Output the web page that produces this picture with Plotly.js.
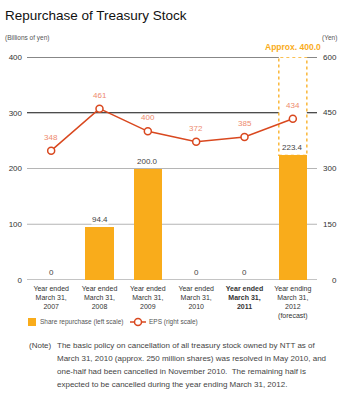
<!DOCTYPE html>
<html>
<head>
<meta charset="utf-8">
<script src="https://cdn.plot.ly/plotly-3.0.1.min.js"></script>
<style>html,body{margin:0;padding:0;background:#fff;}#chart{width:353px;height:400px;}</style>
</head>
<body>
<div id="chart"></div>
<script>
const categories = [
  "Year ended<br>March 31,<br>2007",
  "Year ended<br>March 31,<br>2008",
  "Year ended<br>March 31,<br>2009",
  "Year ended<br>March 31,<br>2010",
  "<b>Year ended<br>March 31,<br>2011</b>",
  "Year ending<br>March 31,<br>2012<br>(forecast)"
];
const repurchase = [0, 94.4, 200.0, 0, 0, 223.4];
const repurchaseLabels = ["0", "94.4", "200.0", "0", "0", "223.4"];
const eps = [348, 461, 400, 372, 385, 434];
const forecastTotal = 400.0;
const forecastIndex = 5;
const leftTicks = [0, 100, 200, 300, 400];
const rightTicks = [0, 150, 300, 450, 600];
const legendLabels = ["Share repurchase (left scale)", "EPS (right scale)"];
const noteLines = [
  "The basic policy on cancellation of all treasury stock owned by NTT as of",
  "March 31, 2010 (approx. 250 million shares) was resolved in May 2010, and",
  "one-half had been cancelled in November 2010.  The remaining half is",
  "expected to be cancelled during the year ending March 31, 2012."
];

const ORANGE = "#F9AC1B";
const RED = "#D9481F";
const SALMON = "#EE8A6E";
const FONT = "Liberation Sans, Arial, sans-serif";
const idx = categories.map((_, i) => i);
const BW = 0.58;

const W = 353, H = 400, L = 27, R = 36, T = 57, B = 120;
const plotW = W - L - R, plotH = H - T - B;
const px = x => (x - L) / plotW;          // pixel -> paper x
const py = y => 1 - (y - T) / plotH;      // pixel -> paper y

const traces = [
  {
    type: "bar", x: idx, y: repurchase, width: BW,
    marker: {color: ORANGE}, name: legendLabels[0],
    hoverinfo: "skip", yaxis: "y"
  },
  {
    type: "scatter", mode: "lines+markers", x: idx, y: eps, yaxis: "y2",
    line: {color: RED, width: 1.5},
    marker: {symbol: "circle", size: 7, color: "#fff", line: {color: RED, width: 1.5}},
    name: legendLabels[1], hoverinfo: "skip"
  }
];

const gridColors = {0: "#8a8a8a", 100: "#b5b5b5", 200: "#b5b5b5", 300: "#111", 400: "#111"};
const shapes = leftTicks.map(v => ({
  type: "line", xref: "paper", yref: "y", x0: 0, x1: 1, y0: v, y1: v,
  line: {color: gridColors[v], width: 1.2}, layer: "below"
}));
shapes.push({
  type: "rect", xref: "x", yref: "y",
  x0: forecastIndex - BW / 2, x1: forecastIndex + BW / 2,
  y0: repurchase[forecastIndex], y1: forecastTotal,
  fillcolor: "#fff", line: {color: ORANGE, width: 1.3, dash: "dot"}, layer: "below"
});
// manual legend
shapes.push({
  type: "rect", xref: "paper", yref: "paper", x0: px(28), x1: px(36), y0: py(326), y1: py(318),
  fillcolor: ORANGE, line: {width: 0}
});
shapes.push({
  type: "line", xref: "paper", yref: "paper", x0: px(130), x1: px(146), y0: py(322), y1: py(322),
  line: {color: RED, width: 1.5}
});
shapes.push({
  type: "circle", xref: "paper", yref: "paper", x0: px(134.5), x1: px(141.5), y0: py(325.5), y1: py(318.5),
  fillcolor: "#fff", line: {color: RED, width: 1.5}
});

const annotations = [];
repurchase.forEach((v, i) => {
  annotations.push({
    x: i, y: v, xref: "x", yref: "y", text: repurchaseLabels[i], showarrow: false,
    yanchor: "bottom", yshift: 2, font: {family: FONT, size: 8, color: "#444"},
    bgcolor: "#fff", borderpad: 0
  });
});
eps.forEach((v, i) => {
  annotations.push({
    x: i, y: v, xref: "x", yref: "y2", text: String(v), showarrow: false,
    yanchor: "bottom", yshift: 7, font: {family: FONT, size: 8, color: SALMON}
  });
});
annotations.push({
  x: forecastIndex, y: forecastTotal, xref: "x", yref: "y", text: "<b>Approx. " + forecastTotal.toFixed(1) + "</b>",
  showarrow: false, yanchor: "bottom", yshift: 3, font: {family: FONT, size: 8.5, color: ORANGE}
});
rightTicks.forEach(v => {
  annotations.push({
    x: px(339), y: v, xref: "paper", yref: "y2", text: String(v), showarrow: false,
    xanchor: "right", font: {family: FONT, size: 8, color: "#333"}
  });
});
annotations.push({
  x: px(3), y: py(38), xref: "paper", yref: "paper", text: "(Billions of yen)", showarrow: false,
  xanchor: "left", yanchor: "middle", font: {family: FONT, size: 6.5, color: "#555"}
});
annotations.push({
  x: px(339), y: py(38), xref: "paper", yref: "paper", text: "(Yen)", showarrow: false,
  xanchor: "right", yanchor: "middle", font: {family: FONT, size: 6.5, color: "#555"}
});
annotations.push({
  x: px(38), y: py(322), xref: "paper", yref: "paper", text: legendLabels[0], showarrow: false,
  xanchor: "left", yanchor: "middle", font: {family: FONT, size: 6.5, color: "#555"}
});
annotations.push({
  x: px(147), y: py(322), xref: "paper", yref: "paper", text: legendLabels[1], showarrow: false,
  xanchor: "left", yanchor: "middle", font: {family: FONT, size: 6.5, color: "#555"}
});
annotations.push({
  x: px(27), y: py(345), xref: "paper", yref: "paper", text: "(Note)", showarrow: false,
  xanchor: "left", yanchor: "middle", font: {family: FONT, size: 8, color: "#444"}
});
noteLines.forEach((t, i) => {
  annotations.push({
    x: px(55), y: py(345 + 13 * i), xref: "paper", yref: "paper", text: t, showarrow: false,
    xanchor: "left", yanchor: "middle", font: {family: FONT, size: 8, color: "#444"}
  });
});

const layout = {
  width: W, height: H,
  margin: {l: L, r: R, t: T, b: B, pad: 0},
  paper_bgcolor: "#fff", plot_bgcolor: "rgba(0,0,0,0)",
  font: {family: FONT, color: "#333"},
  title: {
    text: "Repurchase of Treasury Stock", x: 5 / W, xanchor: "left", xref: "container",
    y: 1 - 15 / H, yanchor: "middle", yref: "container",
    font: {family: FONT, size: 13.5, color: "#111"}
  },
  showlegend: false,
  xaxis: {
    range: [-0.5, 5.5], tickvals: idx, ticktext: categories, showgrid: false, zeroline: false,
    showline: false, ticks: "", tickfont: {family: FONT, size: 7, color: "#333"}, ticklabelstandoff: 3,
    fixedrange: true
  },
  yaxis: {
    range: [0, 400], tickvals: leftTicks, showgrid: false, zeroline: false, showline: false,
    ticks: "", tickfont: {family: FONT, size: 8, color: "#333"}, ticklabelstandoff: 4, fixedrange: true
  },
  yaxis2: {
    range: [0, 600], overlaying: "y", side: "right", showgrid: false, zeroline: false,
    showline: false, showticklabels: false, ticks: "", fixedrange: true
  },
  shapes: shapes,
  annotations: annotations,
  bargap: 0
};

Plotly.newPlot("chart", traces, layout, {staticPlot: true, displayModeBar: false});
</script>
</body>
</html>
